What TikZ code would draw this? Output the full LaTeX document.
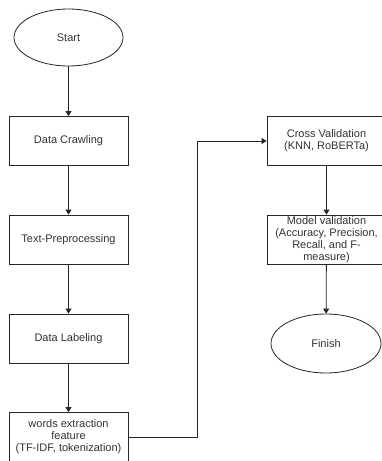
\documentclass[tikz,border=0pt]{standalone}
\usepackage{fontspec}
\setmainfont{Liberation Sans}
\usetikzlibrary{shapes.geometric,arrows.meta}
\tikzset{
  stepbox/.style={draw=black!85, line width=0.8pt, rectangle, inner sep=0pt,
    minimum width=119pt, minimum height=49pt, align=center,
    font=\fontsize{11}{12}\selectfont, text=black!80},
  terminal/.style={draw=black!85, line width=0.8pt, ellipse, inner sep=0pt,
    font=\fontsize{11}{12}\selectfont, text=black!80},
  flow/.style={draw=black!85, line width=0.8pt, -{Triangle[width=6pt,length=5pt]}}
}
\begin{document}
\begin{tikzpicture}[x=1pt,y=-1pt]
  \useasboundingbox (0,0) rectangle (382,461);
  \clip (0,0) rectangle (382,461);
  \fill[white] (0,0) rectangle (382,461);

  % left column
  \node[terminal, minimum width=109pt, minimum height=57pt] (start) at (68.5,37.5) {Start};
  \node[stepbox] (crawl) at (68.5,141) {Data Crawling};
  \node[stepbox] (prep) at (68.5,239.5) {Text-Preprocessing};
  \node[stepbox] (label) at (68.5,338.5) {Data Labeling};
  \node[stepbox] (feat) at (68.5,437) {words extraction\\feature\\(TF-IDF, tokenization)};

  % right column
  \node[stepbox] (cv) at (326.5,141) {Cross Validation\\(KNN, RoBERTa)};
  \node[stepbox] (mv) at (326.5,239.5) {Model validation\\(Accuracy, Precision,\\Recall, and F-\\measure)};
  \node[terminal, minimum width=110pt, minimum height=59pt] (finish) at (326,343.5) {Finish};

  \coordinate (bendlow) at (197,437);
  \coordinate (bendhigh) at (197,141);

  \draw[flow] (start) -- (crawl);
  \draw[flow] (crawl) -- (prep);
  \draw[flow] (prep) -- (label);
  \draw[flow] (label) -- (feat);
  \draw[flow] (feat.east) -- (bendlow) -- (bendhigh) -- (cv.west);
  \draw[flow] (cv) -- (mv);
  \draw[flow] (mv) -- (finish);
\end{tikzpicture}
\end{document}
